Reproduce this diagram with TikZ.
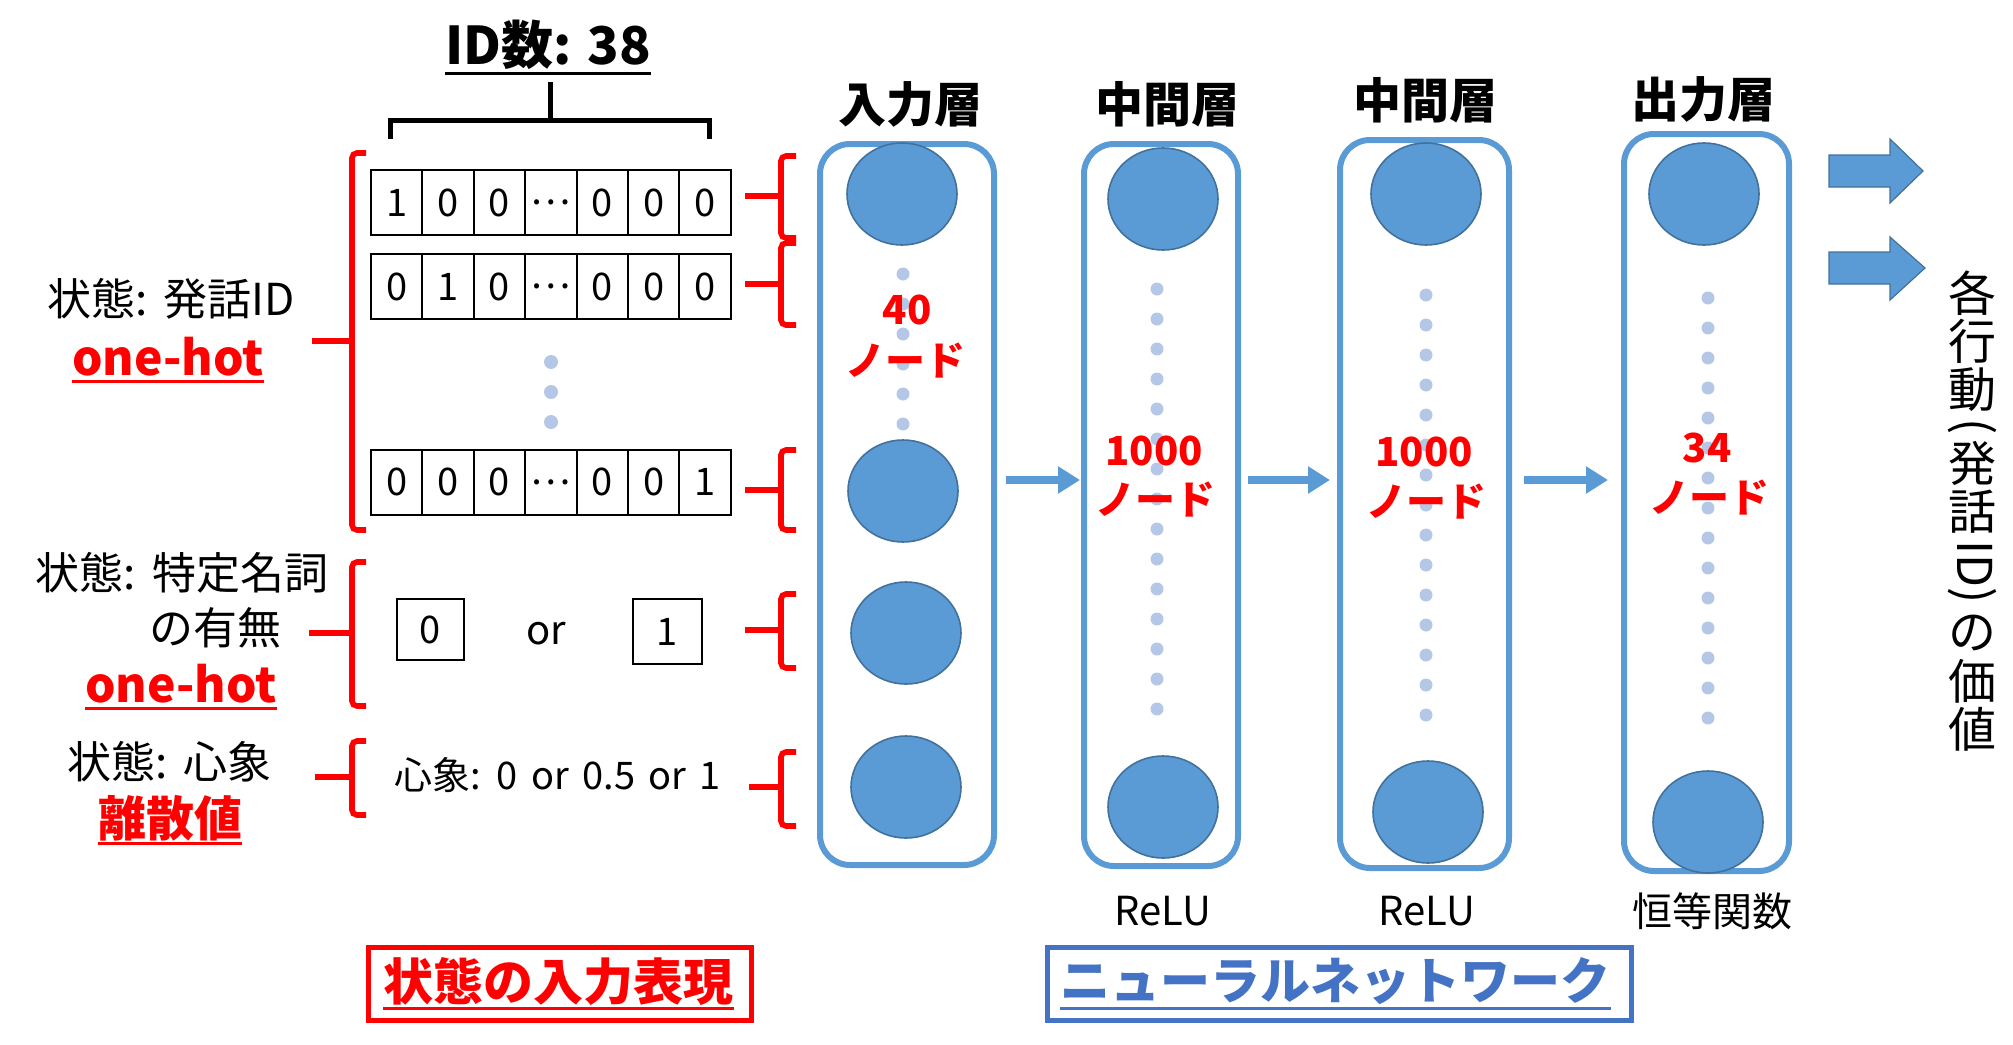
\documentclass[tikz,border=0pt]{standalone}
\usepackage{fontspec}
\setmainfont{Noto Sans CJK JP}
\usepackage{graphicx}
\usetikzlibrary{shapes.geometric,arrows.meta,calc}
\definecolor{nred}{HTML}{FF0000}
\definecolor{nblue}{HTML}{5B9BD5}
\definecolor{nborder}{HTML}{41719C}
\definecolor{ndot}{HTML}{B4C7E7}
\definecolor{nnavy}{HTML}{4472C4}
\newcommand\fsz[1]{\fontsize{#1}{#1}\selectfont}
\newcommand\widesp{\spaceskip=0.3em\relax}
\newcommand\vcj[1]{\hbox to 1em{\hss\vbox to 1em{\vss\hbox{#1}\vss}\hss}}
\newcommand\vrot[1]{\vbox{\kern2.5pt\hbox to 1em{\hss\rotatebox{-90}{#1}\hss}\kern2.5pt}}
\begin{document}
\begin{tikzpicture}[x=0.5pt,y=-0.5pt,
  every node/.style={inner sep=0pt},
  layerbox/.style={draw=nblue, line width=3pt, rounded corners=15pt},
  unit/.style={ellipse, fill=nblue, draw=nborder, line width=0.8pt, minimum width=55pt, minimum height=51pt},
  dotnode/.style={circle, fill=ndot, minimum size=6.5pt},
  redbrace/.style={draw=nred, line width=2.8pt, rounded corners=2.5pt},
  cell/.style={draw=black, line width=1pt, minimum width=25.7pt, minimum height=32.5pt, font=\fsz{19pt}},
  flow/.style={draw=nblue, line width=4pt, -{Triangle[length=11pt,width=13pt]}},
  blockarrow/.style={fill=nblue, draw=nborder, line width=0.6pt},
  hdr/.style={font=\fsz{24pt}\bfseries},
  lbl/.style={font=\fsz{20pt}},
  sidelbl/.style={font=\fsz{22pt}\widesp},
  redlbl/.style={font=\fsz{20pt}\bfseries, text=nred},
  redbig/.style={font=\fsz{24pt}\bfseries, text=nred},
]
\useasboundingbox (0,0) rectangle (2013,1044);

% ---------- ID bracket ----------
\node[font=\fsz{26pt}\bfseries] (idt) at (548,45) {ID数: 38};
\draw[black, line width=1.5pt] ([yshift=-1.5pt]idt.south west) -- ([yshift=-1.5pt]idt.south east);
\coordinate (stemtop) at (550,82);
\coordinate (stembot) at (550,120);
\draw[black, line width=2.5pt] (390,139) -- (390,120) -- (709,120) -- (709,139);
\draw[black, line width=2.5pt] (stemtop) -- (stembot);

% ---------- one-hot rows ----------
\foreach \v [count=\i] in {1,0,0,…,0,0,0}
  \node[cell] (ra\i) at ({371+51.4*(\i-0.5)},202.5) {\v};
\foreach \v [count=\i] in {0,1,0,…,0,0,0}
  \node[cell] (rb\i) at ({371+51.4*(\i-0.5)},286.5) {\v};
\foreach \v [count=\i] in {0,0,0,…,0,0,1}
  \node[cell] (rc\i) at ({371+51.4*(\i-0.5)},482) {\v};
\foreach \k in {0,1,2}
  \node[dotnode, minimum size=7pt] (rd\k) at (551,362+30*\k) {};

% ---------- left labels ----------
\node[sidelbl] (s1) at (171,299) {状態: 発話ID};
\node[redbig] (oh1) at (168,357) {one-hot};
\draw[nred, line width=1.5pt] ([yshift=-2.5pt]oh1.south west) -- ([yshift=-2.5pt]oh1.south east);
\node[sidelbl, anchor=east] (s2a) at (329,572.5) {状態: 特定名詞};
\node[sidelbl, anchor=east] (s2b) at (282,628) {の有無};
\node[redbig] (oh2) at (181,683.5) {one-hot};
\draw[nred, line width=1.5pt] ([yshift=-2.5pt]oh2.south west) -- ([yshift=-2.5pt]oh2.south east);
\node[sidelbl] (s3) at (169.5,762) {状態: 心象};
\node[redbig] (ri) at (170,818) {離散値};
\draw[nred, line width=1.5pt] ([yshift=-1pt]ri.south west) -- ([yshift=-1pt]ri.south east);

% ---------- left braces ----------
\draw[redbrace] (366,153) -- (352,153) -- (352,530) -- (366,530);
\draw[redbrace, rounded corners=0pt] (352,341) -- (312,341);
\draw[redbrace] (366,562) -- (352,562) -- (352,706) -- (366,706);
\draw[redbrace, rounded corners=0pt] (352,633) -- (309,633);
\draw[redbrace] (366,741) -- (352,741) -- (352,815) -- (366,815);
\draw[redbrace, rounded corners=0pt] (352,777) -- (315,777);

% ---------- middle items ----------
\node[cell, minimum width=33.5pt, minimum height=30.5pt] (b0) at (430.5,629.5) {0};
\node[lbl] (or) at (546,634) {or};
\node[cell, minimum width=34.5pt, minimum height=32.5pt] (b1) at (667.5,631.5) {1};
\node[font=\fsz{19pt}] (kk) at (557.5,775) {\spaceskip=0.35em\relax 心象: 0 or 0.5 or 1};

% ---------- right braces ----------
\draw[redbrace] (796,156) -- (781,156) -- (781,238) -- (796,238);
\draw[redbrace, rounded corners=0pt] (781,196) -- (745,196);
\draw[redbrace] (796,243) -- (781,243) -- (781,325) -- (796,325);
\draw[redbrace, rounded corners=0pt] (781,284) -- (745,284);
\draw[redbrace] (796,450) -- (781,450) -- (781,530) -- (796,530);
\draw[redbrace, rounded corners=0pt] (781,490) -- (745,490);
\draw[redbrace] (796,594) -- (781,594) -- (781,668) -- (796,668);
\draw[redbrace, rounded corners=0pt] (781,630) -- (745,630);
\draw[redbrace] (796,752) -- (781,752) -- (781,826) -- (796,826);
\draw[redbrace, rounded corners=0pt] (781,787) -- (749,787);

% ---------- layer headers ----------
\node[hdr] (h0) at (910,104.5) {入力層};
\node[hdr] (h1) at (1167,104.5) {中間層};
\node[hdr] (h2) at (1425.5,100.5) {中間層};
\node[hdr] (h3) at (1703,99.5) {出力層};

% ---------- layer boxes ----------
\node[layerbox, minimum width=87pt, minimum height=360.5pt] (inbox) at (907,504.5) {};
\node[layerbox, minimum width=77pt, minimum height=361pt] (habox) at (1161,505) {};
\node[layerbox, minimum width=84.5pt, minimum height=364pt] (hbbox) at (1424.5,504) {};
\node[layerbox, minimum width=82.5pt, minimum height=368.5pt] (opbox) at (1706.5,502.5) {};

% ---------- dots ----------
\foreach \k in {0,...,5} \node[dotnode] (ind\k) at (903,274+30*\k) {};
\foreach \k in {0,...,14} \node[dotnode] (had\k) at (1157,289+30*\k) {};
\foreach \k in {0,...,14} \node[dotnode] (hbd\k) at (1426,295+30*\k) {};
\foreach \k in {0,...,14} \node[dotnode] (opd\k) at (1708,298+30*\k) {};

% ---------- units ----------
\node[unit] (in1) at (902,194) {};
\node[unit] (in2) at (903,491) {};
\node[unit] (in3) at (906,633) {};
\node[unit] (in4) at (906,787) {};
\node[unit] (ha1) at (1163,199) {};
\node[unit] (ha2) at (1163,807) {};
\node[unit] (hb1) at (1426,194) {};
\node[unit] (hb2) at (1428,812) {};
\node[unit] (o1) at (1704,194) {};
\node[unit] (o2) at (1708,822) {};

% ---------- node counts ----------
\node[redlbl] (c0a) at (907,310) {40};
\node[redlbl] (c0b) at (905,361) {ノード};
\node[redlbl] (c1a) at (1154,451) {1000};
\node[redlbl] (c1b) at (1155,500) {ノード};
\node[redlbl] (c2a) at (1424,452) {1000};
\node[redlbl] (c2b) at (1426,502) {ノード};
\node[redlbl] (c3a) at (1707,448) {34};
\node[redlbl] (c3b) at (1709,498) {ノード};

% ---------- arrows between layers ----------
\coordinate (ay) at (0,480);
\draw[flow, shorten <=4.5pt, shorten >=0.5pt] (inbox.east |- ay) -- (habox.west |- ay);
\draw[flow, shorten <=3.5pt, shorten >=3.5pt] (habox.east |- ay) -- (hbbox.west |- ay);
\draw[flow, shorten <=6pt, shorten >=6.5pt] (hbbox.east |- ay) -- (opbox.west |- ay);

% ---------- activations ----------
\node[lbl] (act1) at (1163,911) {ReLU};
\node[lbl] (act2) at (1427,911) {ReLU};
\node[lbl] (act3) at (1712,911.5) {恒等関数};

% ---------- output arrows ----------
\draw[blockarrow] (1829,155) -- (1890,155) -- (1890,139) -- (1923,171) -- (1890,203) -- (1890,187) -- (1829,187) -- cycle;
\draw[blockarrow] (1829,252) -- (1890,252) -- (1890,237) -- (1925,268) -- (1890,300) -- (1890,284) -- (1829,284) -- cycle;

% ---------- vertical text ----------
\node[anchor=north, font=\fsz{24pt}] (vt) at (1972,269) {\vbox{\offinterlineskip
  \vcj{各}\vcj{行}\vcj{動}\vrot{(}\vcj{発}\vcj{話}\vrot{ID)}\vcj{の}\vcj{価}\vcj{値}}};

% ---------- bottom titles ----------
\node[draw=nred, line width=2.5pt, minimum width=191.5pt, minimum height=36.5pt] (redbox) at (560,984) {};
\node[font=\fsz{25pt}\bfseries, text=nred] (redt) at (558.5,981.5) {状態の入力表現};
\draw[nred, line width=1.5pt] ([yshift=-1.5pt]redt.south west) -- ([yshift=-1.5pt]redt.south east);
\node[draw=nnavy, line width=2.5pt, minimum width=292pt, minimum height=36.5pt] (bluebox) at (1339.5,984) {};
\node[font=\fsz{25pt}\bfseries, text=nnavy] (bluet) at (1335.5,981) {ニューラルネットワーク};
\draw[nnavy, line width=1.5pt] ([yshift=-1.5pt]bluet.south west) -- ([yshift=-1.5pt]bluet.south east);
\end{tikzpicture}
\end{document}
